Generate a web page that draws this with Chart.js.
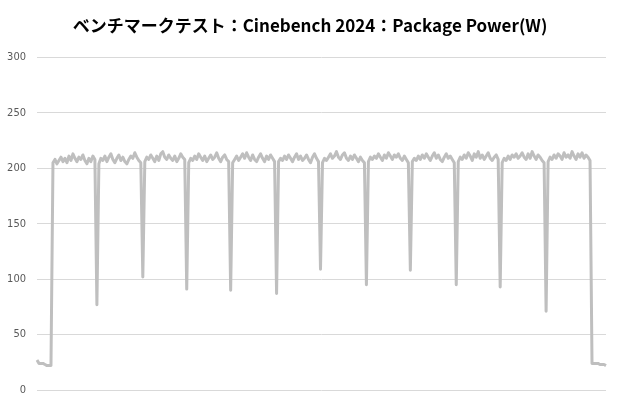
<!DOCTYPE html>
<html>
<head>
<meta charset="utf-8">
<script src="https://cdn.jsdelivr.net/npm/chart.js@4"></script>
<style>
html,body{margin:0;padding:0;background:#fff;overflow:hidden;}
canvas{display:block;}
</style>
</head>
<body>
<canvas id="c" width="620" height="400"></canvas>
<script>
const chartTitle = "ベンチマークテスト：Cinebench 2024：Package Power(W)";
const yTicks = [0, 50, 100, 150, 200, 250, 300];
const idleStart = [27,24,24,24,23,22,22,22];
const loadPower = [
205,208,204,207,210,206,209,205,211,207,213,209,206,210,208,212,207,204,209,206,211,208,
77,
204,209,207,211,206,210,213,208,205,209,212,207,210,206,204,208,211,209,214,210,207,205,
102,
206,210,208,212,209,206,211,207,213,215,210,208,212,209,207,211,206,209,213,210,208,
91,
205,209,207,211,208,213,210,207,211,206,209,212,208,210,214,209,206,210,212,208,206,
90,
205,208,211,207,210,213,209,214,210,207,212,208,206,210,213,209,206,211,208,212,209,206,
87,
206,209,207,211,208,212,209,206,210,213,208,211,207,209,212,208,205,210,213,209,206,
109,
205,209,207,210,213,209,211,215,210,208,212,214,209,207,211,208,212,209,206,210,207,205,
95,
206,210,208,211,209,213,210,207,212,209,214,211,208,212,210,213,209,207,211,208,205,
108,
206,209,207,211,208,212,209,213,210,207,211,214,209,212,208,206,210,213,209,211,208,205,
95,
206,210,208,212,209,214,211,207,213,210,215,209,212,208,211,214,209,207,210,212,208,
93,
205,209,207,211,208,212,210,213,209,211,214,210,208,213,209,215,211,208,212,210,207,205,
71,
206,210,208,212,209,213,211,208,214,210,212,209,215,211,208,213,210,214,209,212,210,207
];
const idleEnd = [24,24,24,24,23,23,23,22];
const powerValues = idleStart.concat(loadPower, idleEnd);
const timeLabels = powerValues.map((_, i) => String(i));

new Chart(document.getElementById('c'), {
  type: 'line',
  data: {
    labels: timeLabels,
    datasets: [{
      data: powerValues,
      borderColor: '#BFBFBF',
      borderWidth: 3,
      pointRadius: 0,
      tension: 0,
      fill: false,
      borderJoinStyle: 'round',
      yAxisID: 'y'
    }]
  },
  options: {
    responsive: false,
    animation: false,
    layout: { padding: { left: 0, right: 0, top: 0, bottom: 10 } },
    plugins: {
      legend: { display: false },
      tooltip: { enabled: false },
      title: {
        display: true,
        text: chartTitle,
        color: '#000000',
        font: { family: '"Noto Sans CJK JP", "Noto Sans", sans-serif', size: 17, weight: 'bold', lineHeight: 1.2 },
        padding: { top: 15, bottom: 22 }
      }
    },
    scales: {
      x: {
        display: false,
        offset: false
      },
      y: {
        min: 0,
        max: 300,
        afterFit: (s) => { s.width = 37; },
        afterBuildTicks: (s) => { s.ticks = yTicks.map(v => ({ value: v })); },
        border: { display: false },
        grid: { color: '#D9D9D9', lineWidth: 1, drawTicks: true, tickLength: 11, tickColor: 'rgba(0,0,0,0)' },
        ticks: {
          padding: 0,
          color: '#595959',
          font: { family: '"Liberation Sans Narrow", "DejaVu Sans Condensed", sans-serif', size: 11 }
        }
      },
      yRight: {
        position: 'right',
        min: 0,
        max: 300,
        afterFit: (s) => { s.width = 14; },
        border: { display: false },
        grid: { display: false, drawTicks: false },
        ticks: { display: false }
      }
    }
  }
});
</script>
</body>
</html>
